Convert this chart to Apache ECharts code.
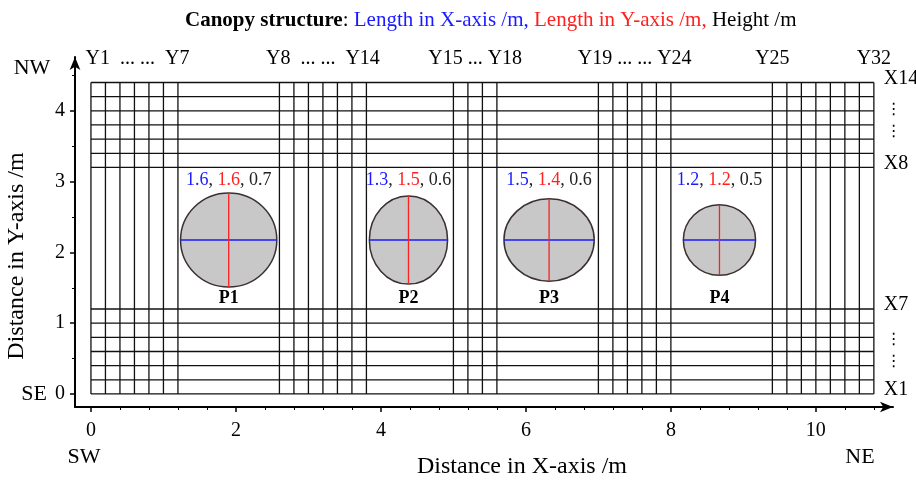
<!DOCTYPE html>
<html><head><meta charset="utf-8">
<script src="https://cdn.jsdelivr.net/npm/echarts@6/dist/echarts.min.js"></script>
<style>html,body{margin:0;padding:0;background:#fff}#c{width:916px;height:481px}</style>
</head><body><div id="c"></div>
<script>
// ---------------- data ----------------
// vertical grid lines Y1..Y32 (x positions, m)
const gridY = [0, 0.2, 0.4, 0.6, 0.8, 1.0, 1.2,
               2.6, 2.8, 3.0, 3.2, 3.4, 3.6, 3.8,
               5.0, 5.2, 5.4, 5.6,
               7.0, 7.2, 7.4, 7.6, 7.8, 8.0,
               9.4, 9.6, 9.8, 10.0, 10.2, 10.4, 10.6, 10.8];
// horizontal grid lines X1..X14 (y positions, m)
const gridX = [0, 0.2, 0.4, 0.6, 0.8, 1.0, 1.2,
               3.2, 3.4, 3.6, 3.8, 4.0, 4.2, 4.4];
const topLabels = ['Y1  ... ...  Y7', 'Y8  ... ...  Y14', 'Y15 ... Y18', 'Y19 ... ... Y24', 'Y25', 'Y32'];
const topLabelFrom = [1, 8, 15, 19, 25, 32];
const topLabelTo = [7, 14, 18, 24, 25, 32];
const sideLabels = ['X14', 'X8', 'X7', 'X1'];
const sideLabelLine = [14, 8, 7, 1];
const plants = ['P1', 'P2', 'P3', 'P4'];
const plantX = [1.9, 4.38, 6.32, 8.67];
const plantY = [2.175, 2.175, 2.175, 2.175];
const lengthX = [1.6, 1.3, 1.5, 1.2];
const lengthY = [1.6, 1.5, 1.4, 1.2];
const heightM = [0.7, 0.6, 0.6, 0.5];
const xTicks = [0, 2, 4, 6, 8, 10];
const xMinorTicks = [0.4, 0.8, 1.2, 1.6, 2.4, 2.8, 3.2, 3.6, 4.4, 4.8, 5.2, 5.6, 6.4, 6.8, 7.2, 7.6, 8.4, 8.8, 9.2, 9.6, 10.4, 10.8];
const yTicks = [0, 1, 2, 3, 4];
const yMinorTicks = [0.5, 1.5, 2.5, 3.5, 4.5];

// ---------------- style constants ----------------
const FONT = '"Liberation Serif","Times New Roman",serif';
const DRAW_SCALE = 0.83;
const LABEL_Y = 3.02, NAME_Y = 1.36, TOP_Y = 4.73;
const BLUE = '#1a1aff', RED = '#ff2020';
const X_MIN = -0.22, X_MAX = 11.064, Y_MIN = -0.184, Y_MAX = 4.76;

const chart = echarts.init(document.getElementById('c'), null, {renderer: 'canvas'});

const axisLineStyle = {show: true, onZero: false, lineStyle: {color: '#000', width: 2}, symbol: ['none', 'arrow'], symbolSize: [8, 13]};
const labelStyle = {color: '#000', fontFamily: FONT, fontSize: 20};

const option = {
  animation: false,
  backgroundColor: '#fff',
  title: {
    text: '{b|Canopy structure}{k|: }{bl|Length in X-axis /m, }{r|Length in Y-axis /m, }{k|Height /m}',
    left: 180, top: 5,
    textStyle: {
      fontFamily: FONT, fontSize: 21, fontWeight: 'normal', color: '#000',
      rich: {
        b: {fontFamily: FONT, fontSize: 21, fontWeight: 'bold', color: '#000'},
        k: {fontFamily: FONT, fontSize: 21, color: '#000'},
        bl: {fontFamily: FONT, fontSize: 21, color: BLUE},
        r: {fontFamily: FONT, fontSize: 21, color: RED}
      }
    }
  },
  grid: {left: 75, right: 23, top: 57, bottom: 74, containLabel: false},
  xAxis: [
    {
      type: 'value', min: X_MIN, max: X_MAX, position: 'bottom',
      splitLine: {show: false}, axisLine: axisLineStyle,
      axisTick: {show: true, length: 5, lineStyle: {color: '#000', width: 1.5}, customValues: xTicks},
      axisLabel: Object.assign({}, labelStyle, {margin: 14, customValues: xTicks})
    },
    {
      type: 'value', min: X_MIN, max: X_MAX, position: 'bottom', gridIndex: 0,
      axisLine: {show: false, onZero: false}, splitLine: {show: false}, axisLabel: {show: false},
      axisTick: {show: true, length: 3, lineStyle: {color: '#000', width: 1}, customValues: xMinorTicks}
    }
  ],
  yAxis: [
    {
      type: 'value', min: Y_MIN, max: Y_MAX, position: 'left',
      splitLine: {show: false}, axisLine: axisLineStyle,
      axisTick: {show: true, length: 5, lineStyle: {color: '#000', width: 1.5}, customValues: yTicks},
      axisLabel: Object.assign({}, labelStyle, {margin: 10, customValues: yTicks})
    },
    {
      type: 'value', min: Y_MIN, max: Y_MAX, position: 'left', gridIndex: 0,
      axisLine: {show: false, onZero: false}, splitLine: {show: false}, axisLabel: {show: false},
      axisTick: {show: true, length: 3, lineStyle: {color: '#000', width: 1}, customValues: yMinorTicks}
    }
  ],
  graphic: [
    {type: 'text', x: 522, y: 467, style: {text: 'Distance in X-axis /m', font: '24px ' + FONT, fill: '#000', align: 'center', verticalAlign: 'middle'}},
    {type: 'text', x: 17, y: 256, rotation: Math.PI / 2, style: {text: 'Distance in Y-axis /m', font: '24px ' + FONT, fill: '#000', align: 'center', verticalAlign: 'middle'}},
    {type: 'text', x: 32, y: 68, style: {text: 'NW', font: '22px ' + FONT, fill: '#000', align: 'center', verticalAlign: 'middle'}},
    {type: 'text', x: 34, y: 394, style: {text: 'SE', font: '22px ' + FONT, fill: '#000', align: 'center', verticalAlign: 'middle'}},
    {type: 'text', x: 84, y: 457, style: {text: 'SW', font: '22px ' + FONT, fill: '#000', align: 'center', verticalAlign: 'middle'}},
    {type: 'text', x: 860, y: 457, style: {text: 'NE', font: '22px ' + FONT, fill: '#000', align: 'center', verticalAlign: 'middle'}}
  ],
  series: [
    // vertical grid lines Y1..Y32
    {
      type: 'custom', xAxisIndex: 0, yAxisIndex: 0, silent: true,
      data: gridY.map(v => [v, 0]),
      renderItem(params, api) {
        const a = api.coord([api.value(0), gridX[0]]);
        const b = api.coord([api.value(0), gridX[gridX.length - 1]]);
        return {type: 'line', shape: {x1: a[0], y1: a[1], x2: b[0], y2: b[1]}, style: {stroke: '#111', lineWidth: 1.3}};
      }
    },
    // horizontal grid lines X1..X14
    {
      type: 'custom', xAxisIndex: 0, yAxisIndex: 0, silent: true,
      data: gridX.map(v => [0, v]),
      renderItem(params, api) {
        const a = api.coord([gridY[0], api.value(1)]);
        const b = api.coord([gridY[gridY.length - 1], api.value(1)]);
        return {type: 'line', shape: {x1: a[0], y1: a[1], x2: b[0], y2: b[1]}, style: {stroke: '#111', lineWidth: 1.3}};
      }
    },
    // top labels
    {
      type: 'custom', xAxisIndex: 0, yAxisIndex: 0, silent: true,
      data: topLabels.map((t, i) => [(gridY[topLabelFrom[i] - 1] + gridY[topLabelTo[i] - 1]) / 2, TOP_Y]),
      renderItem(params, api) {
        const p = api.coord([api.value(0), api.value(1)]);
        const nudge = params.dataIndex === 0 ? 3 : 0;
        return {type: 'text', x: p[0] + nudge, y: p[1], style: {text: topLabels[params.dataIndex], font: '20px ' + FONT, fill: '#000', align: 'center', verticalAlign: 'middle'}};
      }
    },
    // side labels
    {
      type: 'custom', xAxisIndex: 0, yAxisIndex: 0, silent: true,
      data: sideLabels.map((t, i) => [gridY[gridY.length - 1], gridX[sideLabelLine[i] - 1]]),
      renderItem(params, api) {
        const p = api.coord([api.value(0), api.value(1)]);
        return {type: 'text', x: p[0] + 10, y: p[1] - 4, style: {text: sideLabels[params.dataIndex], font: '20px ' + FONT, fill: '#000', align: 'left', verticalAlign: 'middle'}};
      }
    },
    // vertical ellipsis marks
    {
      type: 'custom', xAxisIndex: 0, yAxisIndex: 0, silent: true,
      data: [[gridY[gridY.length - 1], 4.01], [gridY[gridY.length - 1], 3.70], [gridY[gridY.length - 1], 0.76], [gridY[gridY.length - 1], 0.45]],
      renderItem(params, api) {
        const p = api.coord([api.value(0), api.value(1)]);
        return {type: 'text', x: p[0] + 20, y: p[1], style: {text: '⋮', font: '16px "DejaVu Sans"', fill: '#000', align: 'center', verticalAlign: 'middle'}};
      }
    },
    // canopies
    {
      type: 'custom', xAxisIndex: 0, yAxisIndex: 0, silent: true,
      data: plants.map((n, i) => [plantX[i], plantY[i], lengthX[i], lengthY[i], heightM[i]]),
      renderItem(params, api) {
        const i = params.dataIndex;
        const c = api.coord([api.value(0), api.value(1)]);
        const s = api.size([api.value(2) * DRAW_SCALE, api.value(3) * DRAW_SCALE]);
        const rx = s[0] / 2, ry = s[1] / 2;
        const lp = api.coord([api.value(0), LABEL_Y]);
        const np = api.coord([api.value(0), NAME_Y]);
        return {type: 'group', children: [
          {type: 'ellipse', shape: {cx: c[0], cy: c[1], rx: rx, ry: ry}, style: {fill: '#c8c8c9', stroke: '#3a3030', lineWidth: 1.5}},
          {type: 'line', shape: {x1: c[0] - rx, y1: c[1], x2: c[0] + rx, y2: c[1]}, style: {stroke: BLUE, lineWidth: 1.6}},
          {type: 'line', shape: {x1: c[0], y1: c[1] - ry, x2: c[0], y2: c[1] + ry}, style: {stroke: RED, lineWidth: 1.3}},
          {type: 'text', x: lp[0], y: lp[1], style: {
            text: '{b|' + lengthX[i].toFixed(1) + '}, {r|' + lengthY[i].toFixed(1) + '}, ' + heightM[i].toFixed(1),
            font: '18px ' + FONT, fill: '#222', align: 'center', verticalAlign: 'middle',
            rich: {b: {fill: BLUE, font: '18px ' + FONT}, r: {fill: RED, font: '18px ' + FONT}}
          }},
          {type: 'text', x: np[0], y: np[1] + 1, style: {text: plants[i], font: 'bold 18px ' + FONT, fill: '#000', align: 'center', verticalAlign: 'middle'}}
        ]};
      }
    }
  ]
};
chart.setOption(option);
</script>
</body></html>
